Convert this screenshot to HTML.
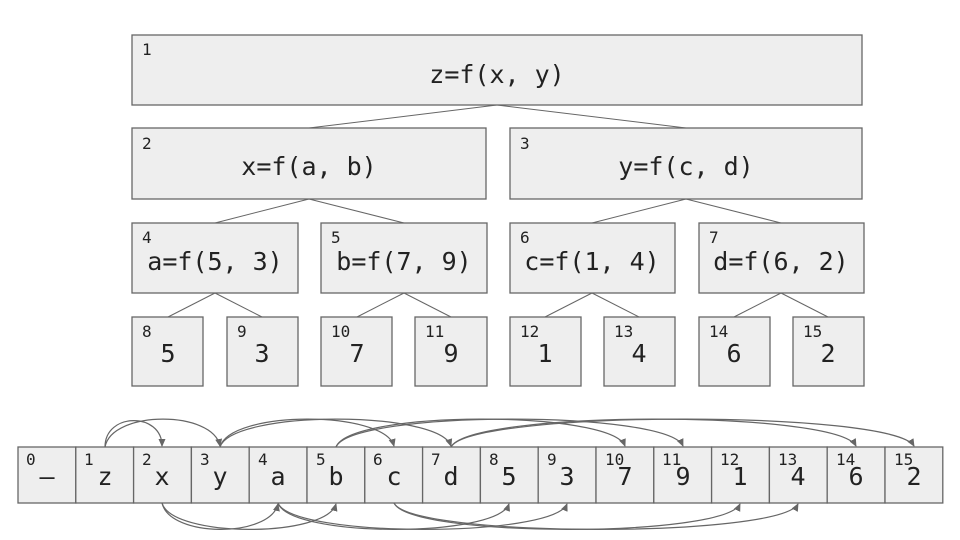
<!DOCTYPE html>
<html><head><meta charset="utf-8"><style>
html,body{margin:0;padding:0;background:#fff;}
svg{display:block;}
text{font-family:"DejaVu Sans Mono","Liberation Mono",monospace;fill:#222;}
.b{fill:#eeeeee;stroke:#666;stroke-width:1.3;}
.l{stroke:#666;stroke-width:1;fill:none;}
.a{stroke:#666;stroke-width:1.2;fill:none;marker-end:url(#ah);}
.i{font-size:16px;}
.m{font-size:25px;text-anchor:middle;}
</style></head><body>
<svg width="960" height="540" viewBox="0 0 960 540" xmlns="http://www.w3.org/2000/svg">
<defs><marker id="ah" markerWidth="8" markerHeight="8" refX="7" refY="4" orient="auto" markerUnits="userSpaceOnUse"><path d="M0,0.5 L8,4 L0,7.5 z" fill="#666"/></marker></defs>
<!-- tree edges -->
<g class="l">
<line x1="497" y1="105" x2="309" y2="128"/><line x1="497" y1="105" x2="686" y2="128"/>
<line x1="309" y1="199" x2="215" y2="223"/><line x1="309" y1="199" x2="404" y2="223"/>
<line x1="686" y1="199" x2="592" y2="223"/><line x1="686" y1="199" x2="781" y2="223"/>
<line x1="215" y1="293" x2="168" y2="317"/><line x1="215" y1="293" x2="262" y2="317"/>
<line x1="404" y1="293" x2="357" y2="317"/><line x1="404" y1="293" x2="451" y2="317"/>
<line x1="592" y1="293" x2="545" y2="317"/><line x1="592" y1="293" x2="639" y2="317"/>
<line x1="781" y1="293" x2="734" y2="317"/><line x1="781" y1="293" x2="828" y2="317"/>
</g>
<!-- boxes -->
<rect class="b" x="132" y="35" width="730" height="70"/>
<text class="i" x="142" y="55">1</text><text class="m" x="497" y="83">z=f(x, y)</text>
<rect class="b" x="132" y="128" width="354" height="71"/>
<text class="i" x="142" y="149">2</text><text class="m" x="309" y="175">x=f(a, b)</text>
<rect class="b" x="510" y="128" width="352" height="71"/>
<text class="i" x="520" y="149">3</text><text class="m" x="686" y="175">y=f(c, d)</text>
<rect class="b" x="132" y="223" width="166" height="70"/>
<text class="i" x="142" y="243">4</text><text class="m" x="215" y="270">a=f(5, 3)</text>
<rect class="b" x="321" y="223" width="166" height="70"/>
<text class="i" x="331" y="243">5</text><text class="m" x="404" y="270">b=f(7, 9)</text>
<rect class="b" x="510" y="223" width="165" height="70"/>
<text class="i" x="520" y="243">6</text><text class="m" x="592" y="270">c=f(1, 4)</text>
<rect class="b" x="699" y="223" width="165" height="70"/>
<text class="i" x="709" y="243">7</text><text class="m" x="781" y="270">d=f(6, 2)</text>
<g>
<rect class="b" x="132" y="317" width="71" height="69"/><text class="i" x="142" y="337">8</text><text class="m" x="168" y="362">5</text>
<rect class="b" x="227" y="317" width="71" height="69"/><text class="i" x="237" y="337">9</text><text class="m" x="262" y="362">3</text>
<rect class="b" x="321" y="317" width="71" height="69"/><text class="i" x="331" y="337">10</text><text class="m" x="357" y="362">7</text>
<rect class="b" x="415" y="317" width="72" height="69"/><text class="i" x="425" y="337">11</text><text class="m" x="451" y="362">9</text>
<rect class="b" x="510" y="317" width="71" height="69"/><text class="i" x="520" y="337">12</text><text class="m" x="545" y="362">1</text>
<rect class="b" x="604" y="317" width="71" height="69"/><text class="i" x="614" y="337">13</text><text class="m" x="639" y="362">4</text>
<rect class="b" x="699" y="317" width="71" height="69"/><text class="i" x="709" y="337">14</text><text class="m" x="734" y="362">6</text>
<rect class="b" x="793" y="317" width="71" height="69"/><text class="i" x="803" y="337">15</text><text class="m" x="828" y="362">2</text>
</g>
<!-- array -->
<g id="arr">
<rect class="b" x="18" y="447" width="57.8" height="56"/><text class="i" x="26" y="465">0</text><text class="m" x="47" y="485">–</text>
<rect class="b" x="75.8" y="447" width="57.8" height="56"/><text class="i" x="84" y="465">1</text><text class="m" x="105" y="485">z</text>
<rect class="b" x="133.6" y="447" width="57.8" height="56"/><text class="i" x="142" y="465">2</text><text class="m" x="162" y="485">x</text>
<rect class="b" x="191.4" y="447" width="57.8" height="56"/><text class="i" x="200" y="465">3</text><text class="m" x="220" y="485">y</text>
<rect class="b" x="249.2" y="447" width="57.8" height="56"/><text class="i" x="258" y="465">4</text><text class="m" x="278" y="485">a</text>
<rect class="b" x="307" y="447" width="57.8" height="56"/><text class="i" x="316" y="465">5</text><text class="m" x="336" y="485">b</text>
<rect class="b" x="364.8" y="447" width="57.8" height="56"/><text class="i" x="373" y="465">6</text><text class="m" x="394" y="485">c</text>
<rect class="b" x="422.6" y="447" width="57.8" height="56"/><text class="i" x="431" y="465">7</text><text class="m" x="451" y="485">d</text>
<rect class="b" x="480.4" y="447" width="57.8" height="56"/><text class="i" x="489" y="465">8</text><text class="m" x="509" y="485">5</text>
<rect class="b" x="538.2" y="447" width="57.8" height="56"/><text class="i" x="547" y="465">9</text><text class="m" x="567" y="485">3</text>
<rect class="b" x="596" y="447" width="57.8" height="56"/><text class="i" x="605" y="465">10</text><text class="m" x="625" y="485">7</text>
<rect class="b" x="653.8" y="447" width="57.8" height="56"/><text class="i" x="662" y="465">11</text><text class="m" x="683" y="485">9</text>
<rect class="b" x="711.6" y="447" width="57.8" height="56"/><text class="i" x="720" y="465">12</text><text class="m" x="740" y="485">1</text>
<rect class="b" x="769.4" y="447" width="57.8" height="56"/><text class="i" x="778" y="465">13</text><text class="m" x="798" y="485">4</text>
<rect class="b" x="827.2" y="447" width="57.8" height="56"/><text class="i" x="836" y="465">14</text><text class="m" x="856" y="485">6</text>
<rect class="b" x="885" y="447" width="57.8" height="56"/><text class="i" x="894" y="465">15</text><text class="m" x="914" y="485">2</text>
</g>
<!-- top arcs -->
<path class="a" d="M105,447 C105,412 162,412 162,446"/>
<path class="a" d="M105,447 C112,410 213,410 220,446"/>
<path class="a" d="M220,447 C230,410 384,410 394,446"/>
<path class="a" d="M220,447 C232,410 439,410 451,446"/>
<path class="a" d="M336,447 C350,410 611,410 625,446"/>
<path class="a" d="M336,447 C352,410 667,410 683,446"/>
<path class="a" d="M451,447 C470,410 837,410 856,446"/>
<path class="a" d="M451,447 C472,410 893,410 914,446"/>
<!-- bottom arcs -->
<path class="a" d="M162,503 C170,538 270,538 278,504"/>
<path class="a" d="M162,503 C172,538 326,538 336,504"/>
<path class="a" d="M278,503 C290,538 497,538 509,504"/>
<path class="a" d="M278,503 C292,538 553,538 567,504"/>
<path class="a" d="M394,503 C410,538 724,538 740,504"/>
<path class="a" d="M394,503 C412,538 780,538 798,504"/>
</svg>
</body></html>
